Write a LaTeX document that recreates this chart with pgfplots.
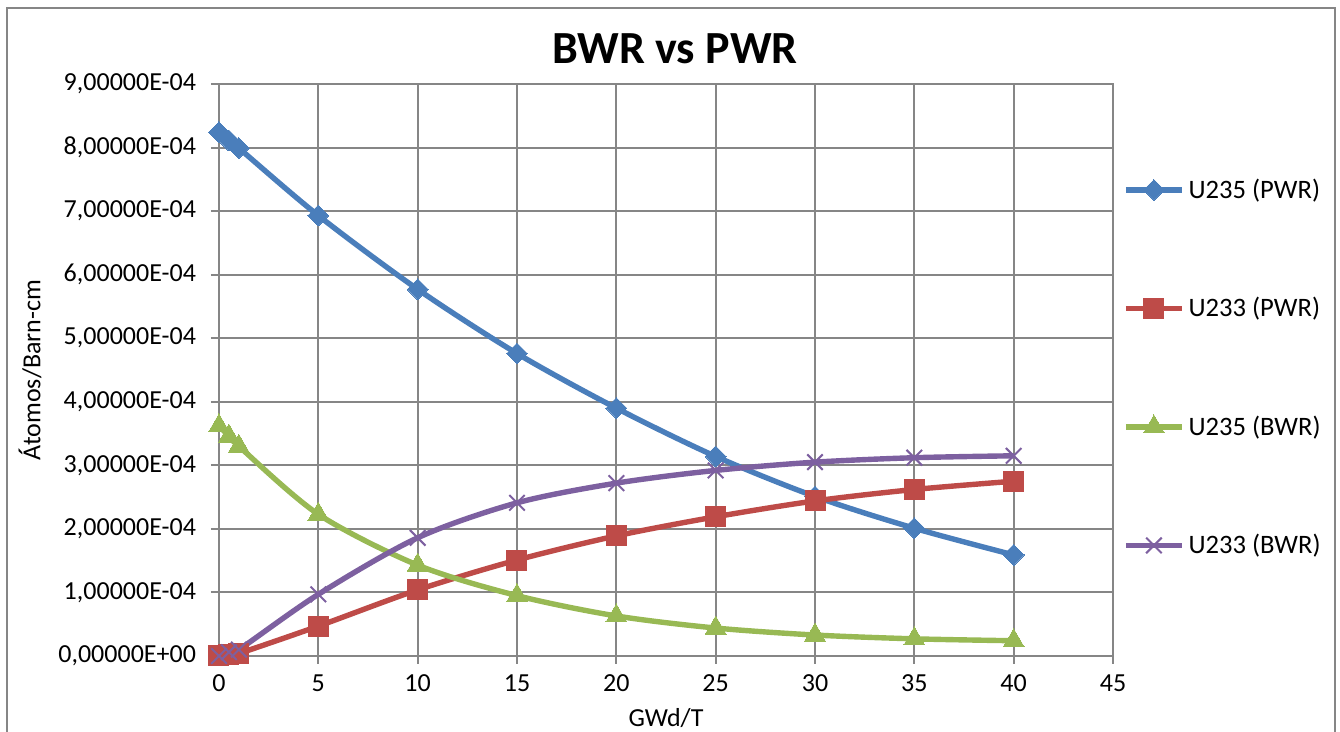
\documentclass[border=0pt]{standalone}
\usepackage{pgfplots}
\pgfplotsset{compat=1.18}
\usepackage{fontspec}
\setmainfont{Carlito}
\definecolor{cblue}{HTML}{4A7EBB}
\definecolor{cred}{HTML}{BE4B48}
\definecolor{cgreen}{HTML}{98B954}
\definecolor{cpurple}{HTML}{7D60A0}
\definecolor{cgrid}{HTML}{868686}
\pgfdeclareplotmark{sqdiamond}{%
  \pgfpathmoveto{\pgfqpoint{0pt}{\pgfplotmarksize}}%
  \pgfpathlineto{\pgfqpoint{\pgfplotmarksize}{0pt}}%
  \pgfpathlineto{\pgfqpoint{0pt}{-\pgfplotmarksize}}%
  \pgfpathlineto{\pgfqpoint{-\pgfplotmarksize}{0pt}}%
  \pgfpathclose\pgfusepathqfillstroke}
\begin{document}
\begin{tikzpicture}
\useasboundingbox (-109.5pt,-38pt) rectangle (560.5pt,328pt);
\draw[cgrid, line width=1pt] (-106pt,-45pt) rectangle (558pt,324pt);
\begin{axis}[
  scale only axis, width=447pt, height=286pt,
  xmin=0, xmax=45, ymin=0, ymax=9e-4,
  xtick={0,5,...,45},
  ytick={0,1e-4,2e-4,3e-4,4e-4,5e-4,6e-4,7e-4,8e-4,9e-4},
  yticklabels={{0,00000E+00},{1,00000E-04},{2,00000E-04},{3,00000E-04},{4,00000E-04},{5,00000E-04},{6,00000E-04},{7,00000E-04},{8,00000E-04},{9,00000E-04}},
  /pgf/number format/assume math mode=true,
  scaled y ticks=false,
  grid=major,
  major grid style={cgrid, line width=1pt},
  axis line style={cgrid, line width=1pt},
  tick style={cgrid, line width=1pt},
  tick align=outside, major tick length=4pt,
  xtick pos=left, ytick pos=left,
  ticklabel style={font=\fontsize{13}{15}\selectfont},
  yticklabel style={xshift=-4pt},
  xticklabel style={yshift=-2pt},
  title={\textbf{BWR vs PWR}},
  title style={font=\fontsize{23}{27}\selectfont\bfseries, at={(axis description cs:0.51,1)}, anchor=base, yshift=4.5pt},
  xlabel={GWd/T},
  xlabel style={font=\fontsize{13}{15}\selectfont, at={(axis description cs:0.5,-0.1084)}, anchor=center},
  ylabel={Átomos/Barn-cm},
  ylabel style={font=\fontsize{13}{15}\selectfont, at={(axis description cs:-0.2114,0.5)}, anchor=center, rotate=0},
  legend style={draw=none, fill=none, at={(axis description cs:1.011,0.504)}, anchor=west,
    font=\fontsize{13.3}{15}\selectfont, row sep=44pt, inner sep=0pt,
    /tikz/every even column/.append style={column sep=0pt}},
  legend cell align=left,
  legend image code/.code={\draw[mark repeat=2,mark phase=2] plot coordinates {(0pt,0pt) (14pt,0pt) (28pt,0pt)};},
  every axis plot/.append style={line width=2.7pt, smooth, tension=0.5},
]
\addplot[cblue, mark=sqdiamond, mark size=5.2pt, mark options={solid, line width=0pt}] coordinates {
(0,8.24e-4) (0.5,8.11e-4) (1,7.99e-4) (5,6.93e-4) (10,5.77e-4) (15,4.76e-4) (20,3.90e-4) (25,3.14e-4) (30,2.51e-4) (35,2.01e-4) (40,1.59e-4)};
\addlegendentry{U235 (PWR)}
\addplot[cred, mark=square*, mark size=5pt, mark options={solid, line width=0pt}] coordinates {
(0,0) (0.5,0.02e-4) (1,0.04e-4) (5,0.47e-4) (10,1.04e-4) (15,1.51e-4) (20,1.89e-4) (25,2.19e-4) (30,2.44e-4) (35,2.62e-4) (40,2.75e-4)};
\addlegendentry{U233 (PWR)}
\addplot[cgreen, mark=triangle*, mark size=6pt, mark options={solid, line width=0pt}] coordinates {
(0,3.62e-4) (0.5,3.46e-4) (1,3.30e-4) (5,2.23e-4) (10,1.43e-4) (15,0.95e-4) (20,0.63e-4) (25,0.44e-4) (30,0.33e-4) (35,0.27e-4) (40,0.24e-4)};
\addlegendentry{U235 (BWR)}
\addplot[cpurple, mark=x, mark size=5.5pt, mark options={solid, line width=1pt}] coordinates {
(0,0) (0.5,0.06e-4) (1,0.10e-4) (5,0.97e-4) (10,1.86e-4) (15,2.41e-4) (20,2.72e-4) (25,2.92e-4) (30,3.05e-4) (35,3.12e-4) (40,3.15e-4)};
\addlegendentry{U233 (BWR)}
\end{axis}
\end{tikzpicture}
\end{document}
